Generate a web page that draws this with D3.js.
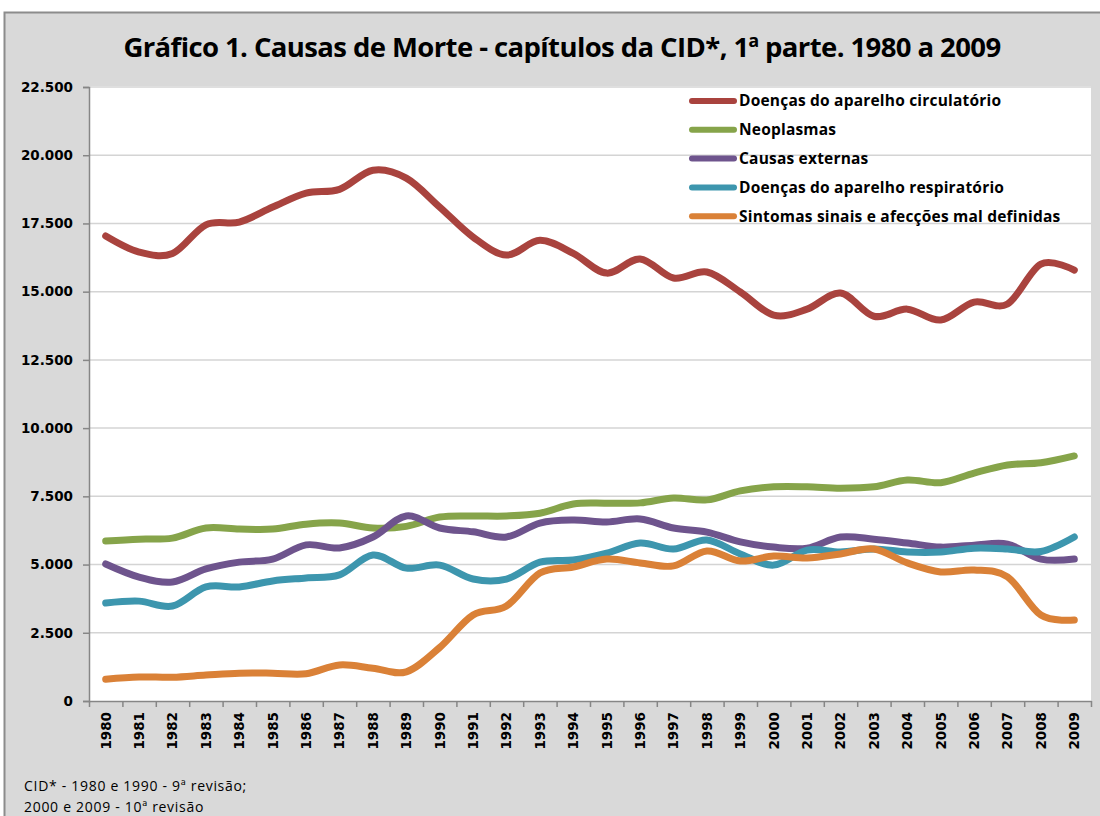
<!DOCTYPE html>
<html>
<head>
<meta charset="utf-8">
<script src="https://cdn.jsdelivr.net/npm/d3@7"></script>
<style>
  body { margin: 0; background: #fff; }
  svg { display: block; }
  .ylab text, .xlab text { font-family: "DejaVu Sans", Verdana, sans-serif; font-weight: bold; font-size: 13.5px; fill: #000; }
</style>
</head>
<body>
<svg id="screen" width="1100" height="816"></svg>
<script>
const years = d3.range(1980, 2010).map(String);

const seriesNames = [
  "Doenças do aparelho circulatório",
  "Neoplasmas",
  "Causas externas",
  "Doenças do aparelho respiratório",
  "Sintomas sinais e afecções mal definidas"
];
const seriesColors = ["#A9433E", "#86A44A", "#6E548D", "#3D96AE", "#DA8137"];

const circulatorio = [17040, 16450, 16400, 17450, 17550, 18100, 18610, 18750, 19450, 19160,
  18100, 17000, 16340, 16880, 16400, 15680, 16200, 15500, 15720, 14990,
  14140, 14360, 14950, 14100, 14360, 13960, 14620, 14550, 16010, 15790];
const neoplasmas = [5860, 5930, 5970, 6340, 6300, 6300, 6480, 6520, 6340, 6400,
  6740, 6780, 6780, 6880, 7220, 7250, 7260, 7440, 7370, 7700,
  7850, 7850, 7800, 7850, 8100, 8000, 8350, 8650, 8730, 8980];
const externas = [5020, 4540, 4360, 4840, 5090, 5200, 5720, 5610, 6010, 6780,
  6340, 6200, 6010, 6520, 6630, 6560, 6670, 6340, 6190, 5830,
  5640, 5600, 6010, 5930, 5790, 5640, 5710, 5750, 5200, 5200];
const respiratorio = [3590, 3660, 3480, 4180, 4180, 4400, 4510, 4620, 5350, 4870,
  4980, 4470, 4470, 5090, 5170, 5420, 5790, 5570, 5900, 5390,
  4980, 5530, 5460, 5570, 5460, 5460, 5600, 5570, 5480, 6010];
const malDefinidas = [800, 880, 870, 950, 1020, 1020, 1000, 1320, 1200, 1070,
  1960, 3150, 3480, 4690, 4910, 5200, 5060, 4950, 5500, 5130,
  5310, 5240, 5390, 5570, 5060, 4730, 4800, 4550, 3150, 2970];

const yTicks = d3.range(0, 22501, 2500);
const titleText = "Gráfico 1. Causas de Morte - capítulos da CID*, 1ª parte. 1980 a 2009";
const noteLines = ["CID* - 1980 e 1990 - 9ª revisão;", "2000 e 2009 - 10ª revisão"];

const allSeries = [circulatorio, neoplasmas, externas, respiratorio, malDefinidas].map((v, i) => ({
  name: seriesNames[i], color: seriesColors[i], values: v
}));

const svg = d3.select("#screen");
const W = 1100, H = 816;
const pLeft = 89, pRight = 1091, pTop = 87, pBottom = 701;

// chart background
svg.append("rect").attr("x", 4.5).attr("y", 12.5).attr("width", W).attr("height", H)
  .attr("fill", "#d9d9d9").attr("stroke", "#8c8c8c").attr("stroke-width", 2);

// plot area
svg.append("rect").attr("x", pLeft).attr("y", pTop - 1).attr("width", pRight - pLeft).attr("height", pBottom - pTop + 1)
  .attr("fill", "#fff");

const x = d3.scaleBand().domain(years).range([pLeft, pRight]);
const xEdge = d3.scaleLinear().domain([0, years.length]).range([pLeft, pRight]);
const y = d3.scaleLinear().domain([0, 22500]).range([pBottom, pTop]);

const loc = d3.formatLocale({ decimal: ",", thousands: ".", grouping: [3], currency: ["", ""] });
const fmt = loc.format(",");

// gridlines
svg.append("g").selectAll("line").data(yTicks.filter(d => d > 0)).enter().append("line")
  .attr("x1", pLeft).attr("x2", pRight)
  .attr("y1", d => y(d)).attr("y2", d => y(d))
  .attr("stroke", "#d4d4d4").attr("stroke-width", 1.5);

// y axis
const yAxis = svg.append("g").attr("class", "ylab").attr("transform", `translate(${pLeft},0)`)
  .call(d3.axisLeft(y).tickValues(yTicks).tickFormat(fmt).tickSize(6).tickPadding(10));
yAxis.selectAll("line, path").attr("stroke", "#868686").attr("stroke-width", 1.5);

// x axis ticks between categories
const xAxis = svg.append("g").attr("transform", `translate(0,${pBottom})`)
  .call(d3.axisBottom(xEdge).tickValues(d3.range(years.length + 1)).tickFormat("").tickSize(6).tickSizeOuter(0));
xAxis.selectAll("line, path").attr("stroke", "#868686").attr("stroke-width", 1.5);

// x labels, rotated
svg.append("g").attr("class", "xlab").selectAll("text").data(years).enter().append("text")
  .text(d => d)
  .attr("transform", d => `translate(${x(d) + x.bandwidth() / 2},712) rotate(-90)`)
  .attr("text-anchor", "end").attr("dy", "0.36em");

// lines
const line = d3.line()
  .x((d, i) => x(years[i]) + x.bandwidth() / 2)
  .y(d => y(d))
  .curve(d3.curveCardinal.tension(0));

svg.append("g").selectAll("path").data(allSeries).enter().append("path")
  .attr("d", d => line(d.values))
  .attr("fill", "none")
  .attr("stroke", d => d.color)
  .attr("stroke-width", 7)
  .attr("stroke-linecap", "round")
  .attr("stroke-linejoin", "round");

// legend
const legend = svg.append("g").selectAll("g").data(allSeries).enter().append("g")
  .attr("transform", (d, i) => `translate(690,${101 + i * 28.8})`);
legend.append("line").attr("x1", 2).attr("x2", 44).attr("y1", 0).attr("y2", 0)
  .attr("stroke", d => d.color).attr("stroke-width", 6).attr("stroke-linecap", "round");
legend.append("text").text(d => d.name)
  .attr("x", 49).attr("dy", "0.35em")
  .style("font-family", "'Open Sans', sans-serif").style("font-weight", "bold")
  .style("font-size", "15.5px").style("letter-spacing", "0.2px");

// title
svg.append("text").text(titleText)
  .attr("x", 562).attr("y", 57).attr("text-anchor", "middle")
  .style("font-family", "'Open Sans', sans-serif").style("font-weight", "bold")
  .style("font-size", "27.5px").style("letter-spacing", "-0.6px");

// footnote
svg.append("g").selectAll("text").data(noteLines).enter().append("text")
  .text(d => d)
  .attr("x", 24).attr("y", (d, i) => 791 + i * 21)
  .style("font-family", "'Open Sans', sans-serif").style("font-size", "14px").style("letter-spacing", "0.7px");
</script>
</body>
</html>
